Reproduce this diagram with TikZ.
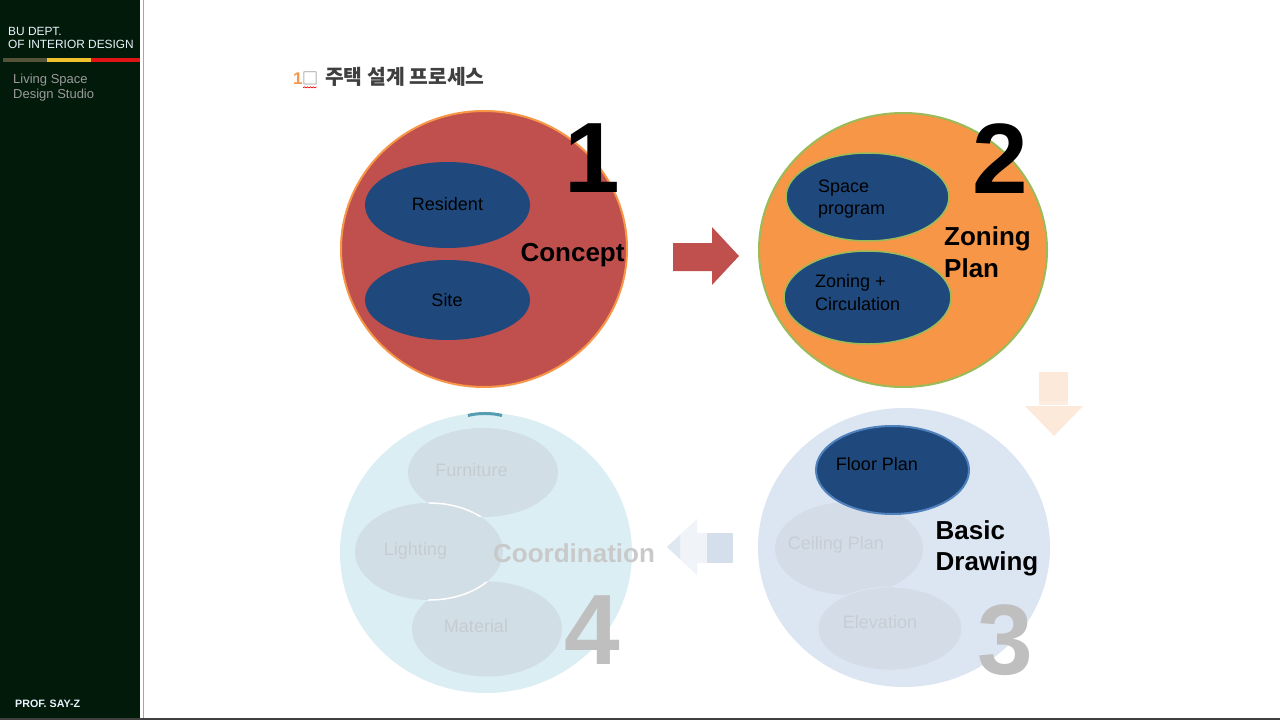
\documentclass[tikz,border=0pt]{standalone}
\usepackage{fontspec}
\setmainfont{Liberation Sans}
\newfontfamily\krfont{Noto Sans CJK KR}
\usetikzlibrary{shapes.geometric}
\definecolor{side}{HTML}{021A0A}
\definecolor{sidetxt}{HTML}{EAF4FC}
\definecolor{sidegray}{HTML}{9A9A9A}
\definecolor{strOlive}{HTML}{55523A}
\definecolor{strYellow}{HTML}{F2C12E}
\definecolor{strRed}{HTML}{E01414}
\definecolor{cRed}{HTML}{C0504D}
\definecolor{cOrange}{HTML}{F79646}
\definecolor{cGreen}{HTML}{9BBB59}
\definecolor{dBlue}{HTML}{1F497D}
\definecolor{mBlue}{HTML}{4F81BD}
\definecolor{cThree}{HTML}{DCE6F2}
\definecolor{eThree}{HTML}{D4DDE7}
\definecolor{tThree}{HTML}{C6CDD5}
\definecolor{cFour}{HTML}{DAEEF3}
\definecolor{eFour}{HTML}{D2DEE5}
\definecolor{tFour}{HTML}{C5CCD1}
\definecolor{bigGray}{HTML}{BFBFBF}
\definecolor{coordGray}{HTML}{C9C9C9}
\definecolor{downA}{HTML}{FCE9DA}
\definecolor{downB}{HTML}{FDEDE0}
\definecolor{leftA}{HTML}{D4DFEB}
\definecolor{leftB}{HTML}{F0F3F8}
\definecolor{titleGray}{HTML}{3F3F3F}
\definecolor{tealBit}{HTML}{3C8EA6}
\newcommand\fsz[1]{\fontsize{#1}{#1}\selectfont}
\begin{document}
\begin{tikzpicture}[x=1pt,y=-1pt,
  ell/.style={ellipse, inner sep=0pt, outer sep=0pt},
  sz/.style 2 args={minimum width=#1pt, minimum height=#2pt},
  txt/.style={inner sep=0pt, font=\fsz{18}},
  boldtxt/.style={inner sep=0pt, font=\fsz{26}\bfseries},
  digit/.style={inner sep=0pt, font=\fsz{100}\bfseries},
  sidet/.style={inner sep=0pt, anchor=base west}
]
\useasboundingbox (0,0) rectangle (1280,720);
\fill[white] (0,0) rectangle (1280,720);
% sidebar
\fill[side] (0,0) rectangle (140,720);
\draw[gray!70, line width=1.2pt] (143.5,0) -- (143.5,720);
\draw[black!75, line width=1.5pt] (0,719.2) -- (1280,719.2);
\fill[strOlive] (3,57.5) rectangle (47,62);
\fill[strYellow] (47,57.5) rectangle (91,62);
\fill[strRed] (91,57.5) rectangle (140,62);
\node[sidet, text=sidetxt, font=\fsz{11.9}] (bu) at (8,35) {BU DEPT.};
\node[sidet, text=sidetxt, font=\fsz{11.9}] (oid) at (8,48) {OF INTERIOR DESIGN};
\node[sidet, text=sidegray, font=\fsz{13}] (lvs) at (13,83) {Living Space};
\node[sidet, text=sidegray, font=\fsz{13}] (dst) at (13,98.5) {Design Studio};
\node[sidet, text=sidetxt, font=\fsz{10.7}\bfseries] (prof) at (15,707) {PROF. SAY-Z};
% title
\node[sidet, text=cOrange, font=\fsz{17}\bfseries] (tnum) at (293,84.5) {1};
\node[sidet, text=gray, font=\fsz{16}\krfont] (tbox) at (302,84.5) {□};
\draw[red, line width=0.6pt] (303,88)--(304.5,86.8)--(306,88)--(307.5,86.8)--(309,88)--(310.5,86.8)--(312,88)--(313.5,86.8)--(315,88)--(316.5,86.8);
\node[sidet, text=titleGray, font=\fsz{20.4}\krfont\bfseries] (ttl) at (325,84) {주택 설계 프로세스};

% circle 1
\node[ell, sz={286}{276}, fill=cRed, draw=cOrange, line width=2pt] (c1) at (484,249) {};
\node[ell, sz={165}{86}, fill=dBlue] (eres) at (447.5,205) {};
\node[ell, sz={165}{80}, fill=dBlue] (esite) at (447.5,300) {};
\node[txt, anchor=base] (tres) at (447.5,210.5) {Resident};
\node[txt, anchor=base] (tsite) at (447,306.5) {Site};
\node[boldtxt, anchor=base] (tcon) at (572.5,261) {Concept};
\node[digit, anchor=base] (n1) at (592,192) {1};

% arrow 1 -> 2
\fill[cRed] (673,243) -- (712,243) -- (712,227) -- (739,256) -- (712,285) -- (712,271) -- (673,271) -- cycle;

% circle 2
\node[ell, sz={288}{274}, fill=cOrange, draw=cGreen, line width=2pt] (c2) at (903,250) {};
\node[ell, sz={163}{88}, fill=dBlue, draw=cGreen, line width=1.5pt] (esp) at (867.5,197) {};
\node[ell, sz={167}{93}, fill=dBlue, draw=cGreen, line width=1.5pt] (ezc) at (867.5,297.5) {};
\node[txt, anchor=base west] (tsp1) at (818,192) {Space};
\node[txt, anchor=base west] (tsp2) at (818,214) {program};
\node[txt, anchor=base west] (tzc1) at (815,287) {Zoning +};
\node[txt, anchor=base west] (tzc2) at (815,310) {Circulation};
\node[boldtxt, anchor=base west] (tzp1) at (944,245) {Zoning};
\node[boldtxt, anchor=base west] (tzp2) at (944,277) {Plan};
\node[digit, anchor=base] (n2) at (1000,193.5) {2};

% arrow 2 -> 3 (faded)
\fill[downA] (1039,372) rectangle (1068,401);
\fill[downB] (1039,401) rectangle (1068,405);
\fill[downA] (1025,406) -- (1083,406) -- (1054,436) -- cycle;

% circle 3
\node[ell, sz={292}{279}, fill=cThree] (c3) at (904,547.5) {};
\node[ell, sz={148}{93}, fill=eThree] (ecp) at (849,548.5) {};
\node[ell, sz={144}{83}, fill=eThree, draw=cThree, line width=0.8pt] (eel) at (890,628.5) {};
\node[ell, sz={153}{88}, fill=dBlue, draw=mBlue, line width=2pt] (efp) at (892.5,470) {};
\node[txt, anchor=base] (tfp) at (877,470.5) {Floor Plan};
\node[txt, anchor=base, text=tThree] (tcp) at (836,549) {Ceiling Plan};
\node[txt, anchor=base, text=tThree] (tel) at (880,628.3) {Elevation};
\node[boldtxt, anchor=base west] (tbd1) at (935.5,539.5) {Basic};
\node[boldtxt, anchor=base west] (tbd2) at (935.5,570.5) {Drawing};
\node[digit, anchor=base, text=bigGray] (n3) at (1005,674.5) {3};

% arrow 3 -> 4 (faded)
\fill[leftB] (697,533) rectangle (707,563);
\fill[leftA] (707,533) rectangle (733,563);
\fill[leftB] (697,519) -- (697,575) -- (667,547) -- cycle;
\fill[leftA!60!leftB] (680,535) -- (680,559) -- (667,547) -- cycle;

% circle 4
\node[ell, sz={292}{280}, fill=cFour] (c4) at (486,553) {};
\draw[tealBit, line width=3pt, opacity=0.85] (468,415.5) .. controls (478,412.8) and (492,412.8) .. (502,415.5);
\node[ell, sz={150}{89}, fill=eFour] (efu) at (483,472.5) {};
\node[ell, sz={150}{95}, fill=eFour] (ema) at (487,629) {};
\node[ell, sz={148}{97}, fill=eFour] (eli) at (429,551.5) {};
\begin{scope}
  \clip (483,472.5) ellipse [x radius=75, y radius=44.5];
  \draw[white, line width=1.5pt] (429,551.5) ellipse [x radius=74, y radius=48.5];
\end{scope}
\begin{scope}
  \clip (487,629) ellipse [x radius=75, y radius=47.5];
  \draw[white, line width=1.5pt] (429,551.5) ellipse [x radius=74, y radius=48.5];
\end{scope}
\node[txt, anchor=base, text=tFour] (tfu) at (471.5,476) {Furniture};
\node[txt, anchor=base, text=tFour] (tli) at (415.5,555) {Lighting};
\node[txt, anchor=base, text=tFour] (tma) at (476,632) {Material};
\node[boldtxt, anchor=base west, text=coordGray] (tco) at (493,562.5) {Coordination};
\node[digit, anchor=base, text=bigGray] (n4) at (592,664.5) {4};
\end{tikzpicture}
\end{document}
